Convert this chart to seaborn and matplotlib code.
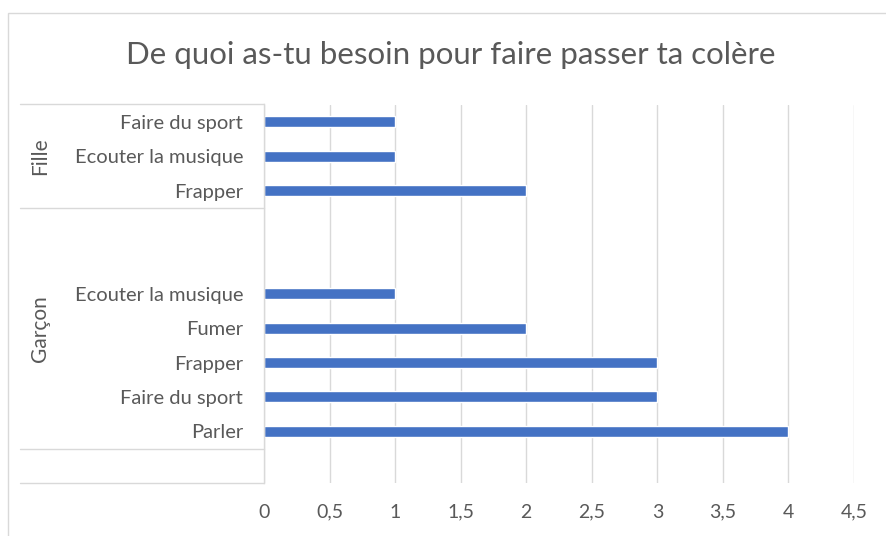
import pandas as pd
import numpy as np
import matplotlib
matplotlib.use("Agg")
import matplotlib.pyplot as plt
import seaborn as sns
from matplotlib.patches import Rectangle

# data, top to bottom as in the chart
fille_activities = ["Faire du sport", "Ecouter la musique", "Frapper"]
fille_counts = [1, 1, 2]
garcon_activities = ["Ecouter la musique", "Fumer", "Frapper", "Faire du sport", "Parler"]
garcon_counts = [1, 2, 3, 3, 4]
title = "De quoi as-tu besoin pour faire passer ta colère"
x_ticks = [0, 0.5, 1, 1.5, 2, 2.5, 3, 3.5, 4, 4.5]

# build rows (blank rows are empty category slots, like in the sheet)
rows = []
for a, c in zip(fille_activities, fille_counts):
    rows.append({"key": "Fille|" + a, "label": a, "groupe": "Fille", "n": c})
rows.append({"key": "blank1", "label": "", "groupe": "Garçon", "n": np.nan})
rows.append({"key": "blank2", "label": "", "groupe": "Garçon", "n": np.nan})
for a, c in zip(garcon_activities, garcon_counts):
    rows.append({"key": "Garçon|" + a, "label": a, "groupe": "Garçon", "n": c})
rows.append({"key": "blank3", "label": "", "groupe": "", "n": np.nan})
df = pd.DataFrame(rows)

sns.set_style("white")
plt.rcParams["font.family"] = ["Lato", "DejaVu Sans"]
text_col = "#595959"
line_col = "#d9d9d9"

fig = plt.figure(figsize=(8.87, 5.36), dpi=100)
ax = fig.add_axes([264 / 887, 1 - 483 / 536, 590 / 887, (483 - 104.5) / 536])

sns.barplot(data=df.dropna(), y="key", x="n", order=list(df["key"]), orient="h",
            color="#4472C4", width=0.32, saturation=1, ax=ax)

ax.set_xlim(0, 4.5)
ax.set_ylim(len(df) - 0.5, -0.5)
ax.set_xticks(x_ticks)
ax.set_xticklabels([str(t).replace(".", ",") if t % 1 else str(int(t)) for t in x_ticks])
ax.set_yticks(range(len(df)))
ax.set_yticklabels(df["label"])
ax.tick_params(axis="x", length=0, pad=15, labelsize=14, labelcolor=text_col)
ax.tick_params(axis="y", length=0, pad=15, labelsize=14.5, labelcolor=text_col)
ax.set_xlabel("")
ax.set_ylabel("")
ax.xaxis.grid(True, color=line_col, linewidth=1)
ax.set_axisbelow(True)
for s in ["top", "right", "bottom"]:
    ax.spines[s].set_visible(False)
ax.spines["left"].set_color(line_col)
ax.spines["left"].set_linewidth(1)

# multi-level category box lines
ytr = ax.get_yaxis_transform()
x0 = (20 - 264) / 590
for yb in [-0.5, 2.5, 9.5, 10.5]:
    ax.plot([x0, 0], [yb, yb], color=line_col, linewidth=1, transform=ytr, clip_on=False)

# group labels
xg = (40 - 264) / 590
for g in ["Fille", "Garçon"]:
    idx = np.where(df["groupe"] == g)[0]
    ax.text(xg, (idx.min() + idx.max()) / 2, g, rotation=90, ha="center", va="center",
            fontsize=15, color=text_col, transform=ytr)

# chart border
fig.patches.append(Rectangle((8 / 887, -0.05), 1.1, 1 - 13 / 536 + 0.05, fill=False,
                             edgecolor=line_col, linewidth=1, transform=fig.transFigure))

fig.text(451 / 887, 1 - 55 / 536, title, ha="center", va="center", fontsize=22.5,
         color=text_col)

fig.savefig("out.png", dpi=100)
